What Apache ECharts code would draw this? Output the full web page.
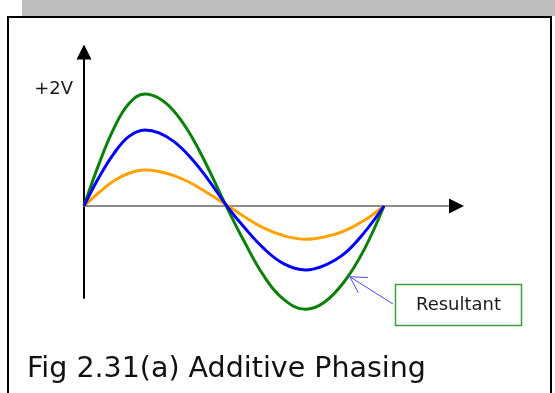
<!DOCTYPE html>
<html>
<head>
<meta charset="utf-8">
<script src="https://cdn.jsdelivr.net/npm/echarts@6/dist/echarts.min.js"></script>
<style>
html,body{margin:0;padding:0;background:#fff;}
#chart{width:555px;height:393px;}
</style>
</head>
<body>
<div id="chart"></div>
<script>
// Phase positions (degrees) along the time axis
var phaseDeg = [0, 18, 36, 54, 73, 90, 108, 126, 144, 172, 192, 216, 240, 266, 288, 312, 336, 360];
// Voltages
var greenResultant = [0, 0.72, 1.33, 1.75, 1.915, 1.84, 1.62, 1.26, 0.79, -0.04, -0.60, -1.20, -1.60, -1.765, -1.65, -1.30, -0.75, 0];
var blueWave = [0, 0.49, 0.90, 1.19, 1.30, 1.25, 1.10, 0.86, 0.55, -0.01, -0.36, -0.73, -0.99, -1.094, -1.02, -0.82, -0.46, 0];
var orangeWave = [0, 0.23, 0.43, 0.56, 0.615, 0.59, 0.52, 0.41, 0.26, 0.01, -0.18, -0.38, -0.51, -0.569, -0.53, -0.43, -0.25, 0];
// Tick label
var yTickValues = [2];
var yTickLabels = ['+2V'];
// Texts
var annotationText = 'Resultant';
var annotationTip = [319, -1.21];
var captionText = 'Fig 2.31(a) Additive Phasing';

function pairs(xs, ys) { return xs.map(function (x, i) { return [x, ys[i]]; }); }

var chart = echarts.init(document.getElementById('chart'), null, {renderer: 'canvas'});
var FONT = '"DejaVu Sans", Verdana, sans-serif';

var option = {
  animation: false,
  backgroundColor: '#ffffff',
  grid: {left: 84, right: 106, top: 52, bottom: 95},
  xAxis: {
    type: 'value', min: 0, max: 438,
    axisLine: {onZero: true, lineStyle: {color: '#8c8c8c', width: 2}},
    axisTick: {show: false}, axisLabel: {show: false}, splitLine: {show: false}
  },
  yAxis: {
    type: 'value', min: -1.573, max: 2.632,
    axisLine: {show: true, onZero: false, symbol: ['none', 'triangle'], symbolSize: [15, 15],
      lineStyle: {color: '#000000', width: 2}},
    axisTick: {show: false},
    splitLine: {show: false},
    axisLabel: {
      customValues: yTickValues, margin: 11, fontSize: 18, color: '#1a1a1a', fontFamily: FONT,
      formatter: function (v) { var i = yTickValues.indexOf(v); return i >= 0 ? yTickLabels[i] : ''; }
    }
  },
  series: [
    {type: 'line', data: pairs(phaseDeg, orangeWave), smooth: 0.4, showSymbol: false, clip: false,
      lineStyle: {color: '#ffa200', width: 3}, z: 3},
    {type: 'line', data: pairs(phaseDeg, greenResultant), smooth: 0.4, showSymbol: false, clip: false,
      lineStyle: {color: '#0a800a', width: 3}, z: 4},
    {type: 'line', data: pairs(phaseDeg, blueWave), smooth: 0.4, showSymbol: false, clip: false,
      lineStyle: {color: '#0000ff', width: 3}, z: 5}
  ]
};
chart.setOption(option);

var axEnd = chart.convertToPixel({gridIndex: 0}, [438, 0]);
var tip = chart.convertToPixel({gridIndex: 0}, annotationTip);
var tail = [393, 304];
var ang = Math.atan2(tail[1] - tip[1], tail[0] - tip[0]);
var headLen = 18, headSpread = 0.52;
var h1 = [tip[0] + headLen * Math.cos(ang - headSpread), tip[1] + headLen * Math.sin(ang - headSpread)];
var h2 = [tip[0] + headLen * Math.cos(ang + headSpread), tip[1] + headLen * Math.sin(ang + headSpread)];

chart.setOption({
  graphic: [
    {type: 'rect', shape: {x: 22, y: 0, width: 533, height: 16}, style: {fill: '#bebebe'}, z: 0},
    {type: 'rect', shape: {x: 8, y: 17, width: 543, height: 420}, style: {fill: 'none', stroke: '#000', lineWidth: 2}, z: 1},
    {type: 'polygon', shape: {points: [[axEnd[0], axEnd[1] - 7.5], [axEnd[0] + 15, axEnd[1]], [axEnd[0], axEnd[1] + 7.5]]},
      style: {fill: '#000'}, z: 10},
    {type: 'line', shape: {x1: tail[0], y1: tail[1], x2: tip[0], y2: tip[1]}, style: {stroke: '#4a4aff', lineWidth: 1}, z: 10},
    {type: 'polyline', shape: {points: [h1, tip, h2]}, style: {stroke: '#4a4aff', lineWidth: 1, fill: 'none'}, z: 10},
    {type: 'rect', shape: {x: 395.5, y: 284.5, width: 126, height: 41}, style: {fill: '#fff', stroke: '#3f9f3f', lineWidth: 1.5}, z: 10},
    {type: 'text', x: 458.5, y: 305, style: {text: annotationText, font: '18px ' + FONT, fill: '#1a1a1a', align: 'center', verticalAlign: 'middle'}, z: 11},
    {type: 'text', x: 27, y: 370, style: {text: captionText, font: '28.5px ' + FONT, fill: '#111', align: 'left', verticalAlign: 'middle'}, z: 11}
  ]
});
</script>
</body>
</html>
